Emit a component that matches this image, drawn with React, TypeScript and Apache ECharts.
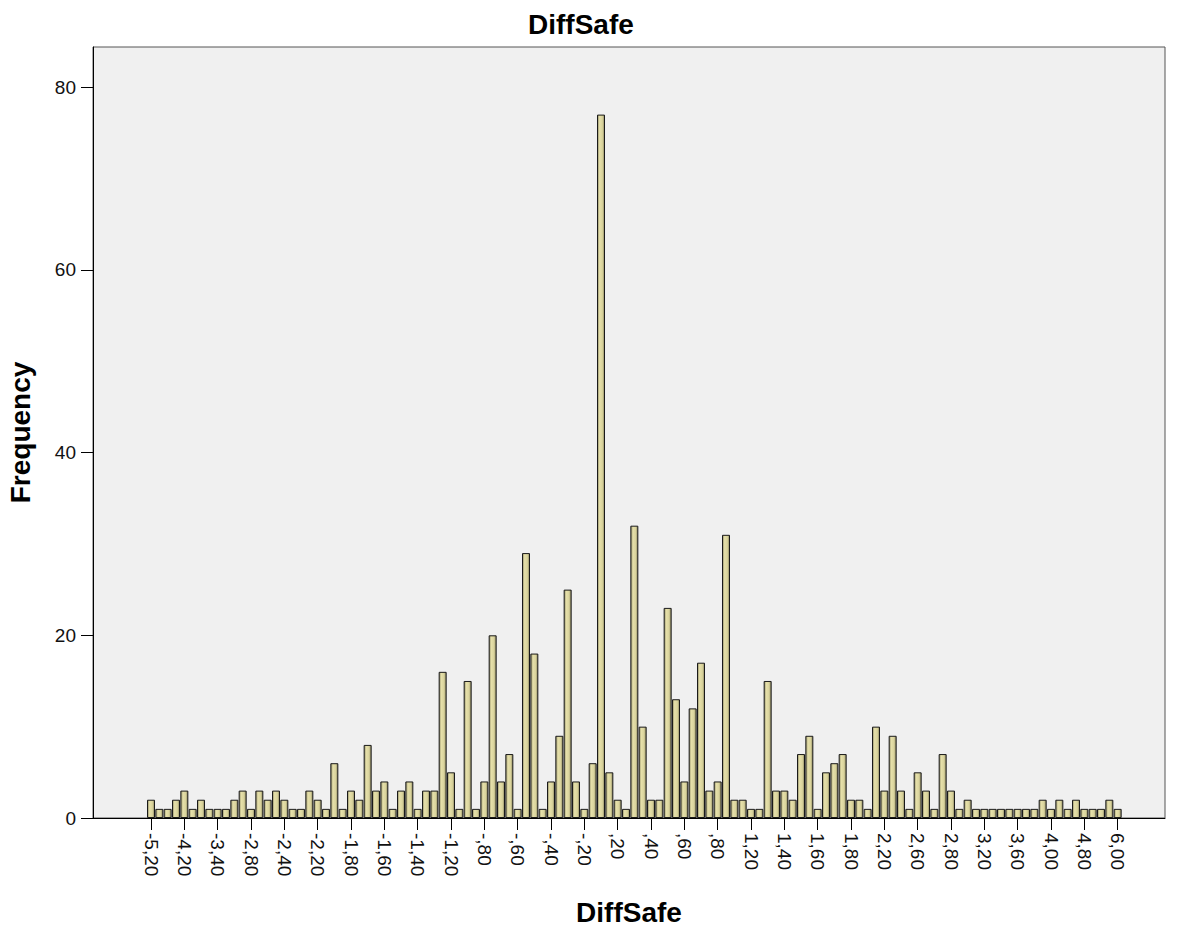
import React, { useEffect, useRef } from "react";
import * as echarts from "echarts";

const categories = [
  "-5,20", "-4,95", "-4,70", "-4,45", "-4,20", "-4,00", "-3,80", "-3,60",
  "-3,40", "-3,25", "-3,10", "-2,95", "-2,80", "-2,70", "-2,60", "-2,50",
  "-2,40", "-2,35", "-2,30", "-2,25", "-2,20", "-2,10", "-2,00", "-1,90",
  "-1,80", "-1,75", "-1,70", "-1,65", "-1,60", "-1,55", "-1,50", "-1,45",
  "-1,40", "-1,35", "-1,30", "-1,25", "-1,20", "-1,10", "-1,00", "-,90",
  "-,80", "-,75", "-,70", "-,65", "-,60", "-,55", "-,50", "-,45",
  "-,40", "-,35", "-,30", "-,25", "-,20", "-,10", ",00", ",10",
  ",20", ",25", ",30", ",35", ",40", ",45", ",50", ",55",
  ",60", ",65", ",70", ",75", ",80", ",90", "1,00", "1,10",
  "1,20", "1,25", "1,30", "1,35", "1,40", "1,45", "1,50", "1,55",
  "1,60", "1,65", "1,70", "1,75", "1,80", "1,90", "2,00", "2,10",
  "2,20", "2,30", "2,40", "2,50", "2,60", "2,65", "2,70", "2,75",
  "2,80", "2,90", "3,00", "3,10", "3,20", "3,30", "3,40", "3,50",
  "3,60", "3,70", "3,80", "3,90", "4,00", "4,20", "4,40", "4,60",
  "4,80", "5,10", "5,40", "5,70", "6,00",
];

const frequencies = [
  2, 1, 1, 2, 3, 1, 2, 1,
  1, 1, 2, 3, 1, 3, 2, 3,
  2, 1, 1, 3, 2, 1, 6, 1,
  3, 2, 8, 3, 4, 1, 3, 4,
  1, 3, 3, 16, 5, 1, 15, 1,
  4, 20, 4, 7, 1, 29, 18, 1,
  4, 9, 25, 4, 1, 6, 77, 5,
  2, 1, 32, 10, 2, 2, 23, 13,
  4, 12, 17, 3, 4, 31, 2, 2,
  1, 1, 15, 3, 3, 2, 7, 9,
  1, 5, 6, 7, 2, 2, 1, 10,
  3, 9, 3, 1, 5, 3, 1, 7,
  3, 1, 2, 1, 1, 1, 1, 1,
  1, 1, 1, 2, 1, 2, 1, 2,
  1, 1, 1, 2, 1,
];

const tickLabels = [
  "-5,20", "-4,20", "-3,40", "-2,80", "-2,40", "-2,20", "-1,80", "-1,60",
  "-1,40", "-1,20", "-,80", "-,60", "-,40", "-,20", ",20", ",40",
  ",60", ",80", "1,20", "1,40", "1,60", "1,80", "2,20", "2,60",
  "2,80", "3,20", "3,60", "4,00", "4,80", "6,00",
];

const yTicks = [0, 20, 40, 60, 80];

const FONT = "'Liberation Sans', Arial, sans-serif";

export default function App() {
  const ref = useRef<HTMLDivElement>(null);

  useEffect(() => {
    if (!ref.current) return;
    const chart = echarts.init(ref.current, undefined, { renderer: "svg" });
    const tickIdx = tickLabels.map((l) => categories.indexOf(l));
    const barColor = new echarts.graphic.LinearGradient(0, 0, 1, 0, [
      { offset: 0, color: "#8f8b66" },
      { offset: 0.3, color: "#e6e0aa" },
      { offset: 0.7, color: "#d9d39c" },
      { offset: 1, color: "#8a8560" },
    ]);
    chart.setOption({
      animation: false,
      backgroundColor: "#ffffff",
      title: {
        text: "DiffSafe",
        left: 528,
        top: 10,
        padding: 0,
        textStyle: { fontFamily: FONT, fontSize: 28, fontWeight: "bold", color: "#000" },
      },
      grid: {
        left: 93,
        top: 47,
        width: 1072,
        height: 771,
        outerBoundsMode: "none",
        containLabel: false,
        show: true,
        backgroundColor: "#f0f0f0",
        borderColor: "#555555",
        borderWidth: 1,
      },
      xAxis: {
        type: "value",
        min: -6.96,
        max: 121.68,
        name: "DiffSafe",
        nameLocation: "middle",
        nameGap: 80,
        nameTextStyle: { fontFamily: FONT, fontSize: 28, fontWeight: "bold", color: "#000" },
        axisLine: { show: true, onZero: false, lineStyle: { color: "#000", width: 1 } },
        axisTick: {
          show: true,
          length: 12,
          customValues: tickIdx,
          lineStyle: { color: "#000", width: 1 },
        },
        axisLabel: {
          customValues: tickIdx,
          rotate: -90,
          margin: 15,
          fontFamily: FONT,
          fontSize: 19,
          color: "#111",
          formatter: (v: number) => categories[Math.round(v)] ?? "",
        },
        splitLine: { show: false },
      },
      yAxis: {
        type: "value",
        min: 0,
        max: 84.4,
        name: "Frequency",
        nameLocation: "middle",
        nameGap: 59,
        nameTextStyle: { fontFamily: FONT, fontSize: 28, fontWeight: "bold", color: "#000" },
        axisLine: { show: true, onZero: false, lineStyle: { color: "#000", width: 1 } },
        axisTick: {
          show: true,
          length: 12,
          customValues: yTicks,
          lineStyle: { color: "#000", width: 1 },
        },
        axisLabel: {
          customValues: yTicks,
          margin: 17,
          fontFamily: FONT,
          fontSize: 19,
          color: "#111",
        },
        splitLine: { show: false },
      },
      series: [
        {
          type: "bar",
          data: frequencies.map((v, i) => [i, v]),
          barWidth: 8,
          itemStyle: {
            color: barColor,
            borderColor: "#1a1a1a",
            borderWidth: 1,
          },
        },
      ],
    });
    return () => chart.dispose();
  }, []);

  return (
    <div
      ref={ref}
      style={{ position: "absolute", left: 0, top: 0, width: 1179, height: 929 }}
    />
  );
}
